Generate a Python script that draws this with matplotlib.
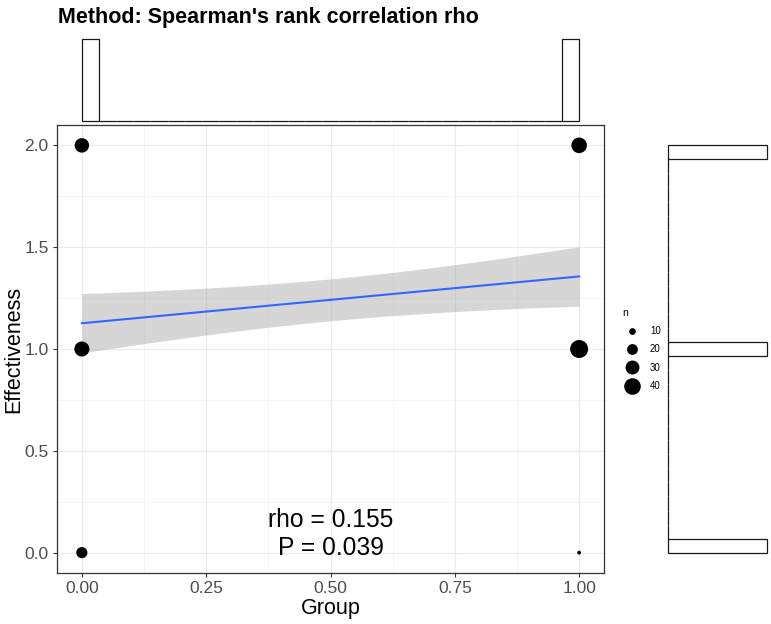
import numpy as np
import matplotlib
matplotlib.use("Agg")
from matplotlib import pyplot as plt
from matplotlib.lines import Line2D

plt.rcParams['font.family'] = ['Liberation Sans', 'DejaVu Sans']

# aggregated data: one row per (Group, Effectiveness) with its count n
group = np.array([0, 0, 0, 1, 1, 1])
effect = np.array([0, 1, 2, 0, 1, 2])
counts = np.array([21, 34, 32, 5, 46, 36])
legend_n = [10, 20, 30, 40]
x_ticks = [0.0, 0.25, 0.5, 0.75, 1.0]
y_ticks = [0.0, 0.5, 1.0, 1.5, 2.0]
stat_text = "rho = 0.155\nP = 0.039"
title = "Method: Spearman's rank correlation rho"

W, H = 771, 624
DPI = 100


def size_px(n):
    # ggplot-like area scale: size 1..6 over sqrt(n), diameter in px
    lo, hi = np.sqrt(counts.min()), np.sqrt(counts.max())
    s = 1 + 5 * (np.sqrt(n) - lo) / (hi - lo)
    return 2.845 * s + 0.945


def px2pt(px):
    return px * 72.0 / DPI


fig = plt.figure(figsize=(W / DPI, H / DPI), dpi=DPI)

ax = fig.add_axes([57 / W, 51 / H, 547 / W, 448 / H])
ax_top = fig.add_axes([57 / W, (H - 121) / H, 547 / W, 82 / H])
ax_right = fig.add_axes([668 / W, 51 / H, 99 / W, 448 / H])

xlim = (-0.05, 1.05)
ylim = (-0.1, 2.1)

# grid
for v in np.arange(0.125, 1.0, 0.25):
    ax.axvline(v, color='#F2F2F2', lw=0.5, zorder=0)
for v in np.arange(0.25, 2.0, 0.5):
    ax.axhline(v, color='#F2F2F2', lw=0.5, zorder=0)
for v in x_ticks:
    ax.axvline(v, color='#EBEBEB', lw=0.8, zorder=0)
for v in y_ticks:
    ax.axhline(v, color='#EBEBEB', lw=0.8, zorder=0)

# points
d = px2pt(size_px(counts))
ax.scatter(group, effect, s=d ** 2, color='black', linewidths=0, zorder=5)

# linear fit with 95% CI on the expanded data
gx = np.repeat(group, counts).astype(float)
gy = np.repeat(effect, counts).astype(float)
slope, icpt = np.polyfit(gx, gy, 1)
N = len(gx)
resid = gy - (icpt + slope * gx)
sigma = np.sqrt((resid ** 2).sum() / (N - 2))
sxx = ((gx - gx.mean()) ** 2).sum()
xs = np.linspace(0, 1, 80)
fit = icpt + slope * xs
se = sigma * np.sqrt(1.0 / N + (xs - gx.mean()) ** 2 / sxx)
tq = 1.974
ax.fill_between(xs, fit - tq * se, fit + tq * se, color='#999999', alpha=0.4,
                linewidth=0, zorder=3)
ax.plot(xs, fit, color='#3366FF', lw=1.5, zorder=4)

ax.text(0.5, 0.093, stat_text, ha='center', va='center', fontsize=17.7,
        linespacing=1.2, zorder=6)

ax.set_xlim(xlim)
ax.set_ylim(ylim)
ax.set_xticks(x_ticks)
ax.set_xticklabels(['0.00', '0.25', '0.50', '0.75', '1.00'])
ax.set_yticks(y_ticks)
ax.set_yticklabels(['0.0', '0.5', '1.0', '1.5', '2.0'])
ax.tick_params(length=3, width=0.8, color='#333333', labelcolor='#4D4D4D',
               labelsize=12.5, pad=3)
for sp in ax.spines.values():
    sp.set_color('#333333')
    sp.set_linewidth(0.9)
ax.set_xlabel('Group', fontsize=15.5, labelpad=1)
ax.set_ylabel('Effectiveness', fontsize=15.5, labelpad=0)

# marginal histograms
ax_top.hist(group, bins=np.linspace(0, 1, 30), color='white',
            edgecolor='#1a1a1a', linewidth=0.9)
ax_top.set_xlim(xlim)
ax_top.set_ylim(0, 3)
ax_top.axis('off')

ax_right.hist(effect, bins=np.linspace(0, 2, 30), orientation='horizontal',
              color='white', edgecolor='#1a1a1a', linewidth=0.9)
ax_right.set_ylim(ylim)
ax_right.set_xlim(0, 2)
ax_right.axis('off')
for a in (ax_top, ax_right):
    for p in a.patches:
        p.set_clip_on(False)

# size legend
handles = [Line2D([], [], ls='none', marker='o', color='black',
                  markersize=px2pt(size_px(n)), markeredgewidth=0)
           for n in legend_n]
leg = fig.legend(handles, [str(n) for n in legend_n], title='n',
                 loc='upper left', bbox_to_anchor=(617 / W, 1 - 303 / H),
                 frameon=False, fontsize=7, title_fontsize=7.5,
                 handlelength=2.0, handletextpad=0.9, labelspacing=0.85,
                 borderpad=0, alignment='left')

fig.text(58 / W, 1 - 17 / H, title, fontsize=15.5, fontweight='bold',
         ha='left', va='center')

fig.savefig('out.png', dpi=DPI)
